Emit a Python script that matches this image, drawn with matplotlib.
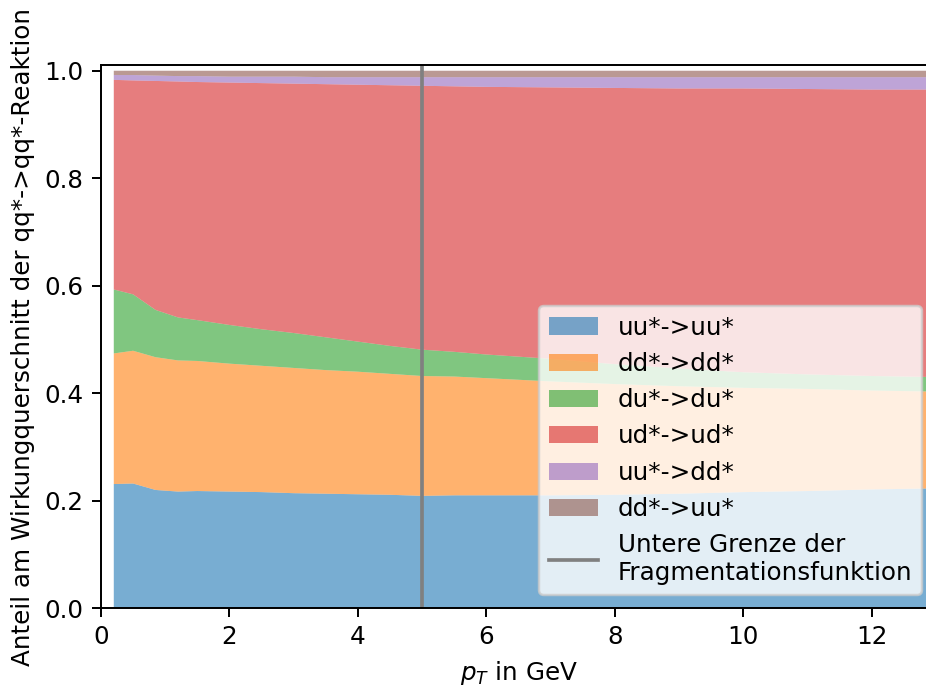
import matplotlib
matplotlib.use('Agg')
import matplotlib.pyplot as plt

pt = [0.2, 0.5, 0.85, 1.2, 1.5, 2.0, 2.5, 3.0, 3.5, 4.0, 4.5, 5.0, 5.5, 6.0,
      7.0, 8.0, 9.0, 10.0, 11.0, 12.0, 13.0]

uu_uu = [0.231, 0.232, 0.220, 0.217, 0.218, 0.217, 0.216, 0.214, 0.213, 0.212, 0.211,
         0.209, 0.210, 0.210, 0.210, 0.211, 0.213, 0.216, 0.218, 0.221, 0.223]
dd_dd = [0.243, 0.247, 0.247, 0.244, 0.242, 0.238, 0.235, 0.233, 0.230, 0.228, 0.225,
         0.223, 0.221, 0.218, 0.212, 0.206, 0.200, 0.194, 0.190, 0.184, 0.180]
du_du = [0.119, 0.105, 0.088, 0.080, 0.076, 0.072, 0.068, 0.065, 0.061, 0.056, 0.052,
         0.049, 0.046, 0.044, 0.042, 0.037, 0.033, 0.029, 0.027, 0.027, 0.027]
ud_ud = [0.390, 0.398, 0.426, 0.439, 0.443, 0.451, 0.458, 0.464, 0.471, 0.478, 0.485,
         0.491, 0.494, 0.498, 0.505, 0.514, 0.521, 0.528, 0.531, 0.533, 0.535]
uu_dd = [0.009, 0.010, 0.010, 0.010, 0.011, 0.011, 0.012, 0.013, 0.013, 0.014, 0.015,
         0.016, 0.017, 0.018, 0.019, 0.020, 0.021, 0.021, 0.022, 0.023, 0.023]
dd_uu = [0.008, 0.008, 0.009, 0.010, 0.010, 0.011, 0.011, 0.011, 0.012, 0.012, 0.012,
         0.012, 0.012, 0.012, 0.012, 0.012, 0.012, 0.012, 0.012, 0.012, 0.012]

labels = ['uu*->uu*', 'dd*->dd*', 'du*->du*', 'ud*->ud*', 'uu*->dd*', 'dd*->uu*']
pt_min = 5.0

dpi = 177
fig = plt.figure(figsize=(926 / dpi, 688 / dpi), dpi=dpi)
ax = fig.add_axes([0.109, 0.116, 0.902, 0.789])

ax.stackplot(pt, uu_uu, dd_dd, du_du, ud_ud, uu_dd, dd_uu,
             labels=labels, alpha=0.6)
ax.axvline(pt_min, color='gray', linewidth=1.5,
           label='Untere Grenze der\nFragmentationsfunktion')

ax.set_xlim(0, 13)
ax.set_ylim(0, 1.01)
ax.set_xlabel('$p_T$ in GeV')
ax.set_ylabel('Anteil am Wirkungquerschnitt der qq*->qq*-Reaktion')

ax.legend(loc='lower right', bbox_to_anchor=(922 / 926, 93 / 688),
          bbox_transform=fig.transFigure, borderaxespad=0)

fig.savefig('out.png', dpi=dpi)
